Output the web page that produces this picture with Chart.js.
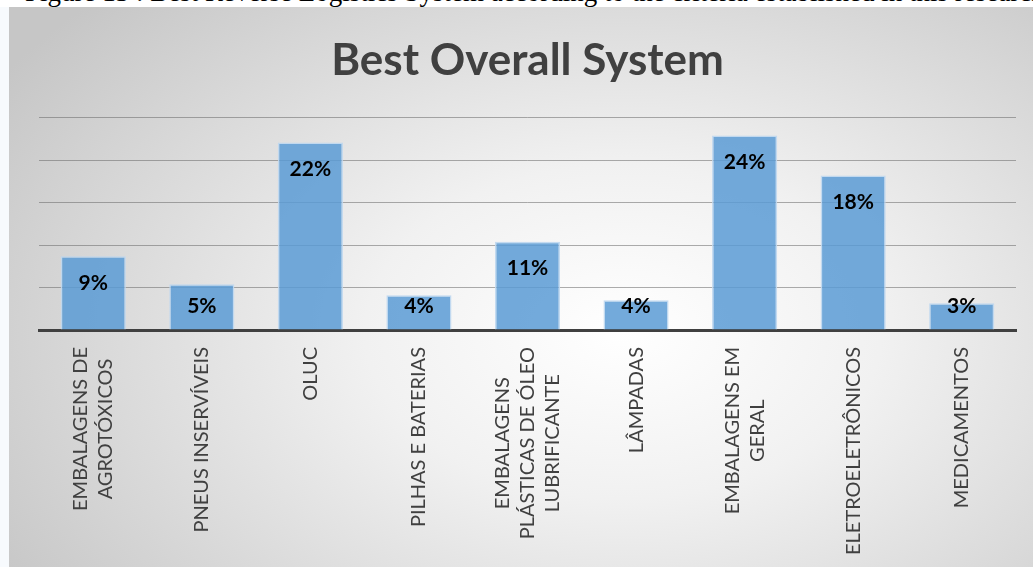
<!DOCTYPE html>
<html>
<head>
<meta charset="utf-8">
<script src="https://cdn.jsdelivr.net/npm/chart.js@4.4.1/dist/chart.umd.min.js"></script>
<style>
	html, body { margin: 0; padding: 0; width: 1033px; height: 567px; overflow: hidden; background: #f7fafd; }
	#caption { position: absolute; left: 0; top: 0; width: 1033px; height: 7px; overflow: hidden; background: #fff; }
	#caption span { position: absolute; left: 25px; top: -21px; white-space: nowrap; font: 27px/27px 'Liberation Serif', serif; color: #000; }
	#box { position: absolute; left: 9px; top: 7px; width: 1024px; height: 560px;
		background: radial-gradient(ellipse 72% 85% at 60% 58%, #ffffff 0%, #f1f1f1 35%, #c6c6c6 100%); }
</style>
</head>
<body>
<div id="caption"><span>Figure 13 : Best Reverse Logistics System according to the criteria established in this research</span></div>
<div id="box"><canvas id="chart" width="1024" height="560"></canvas></div>
<script>
// categories (multi-line where the original wraps)
const categories = [
	['EMBALAGENS DE', 'AGROTÓXICOS'],
	['PNEUS INSERVÍVEIS'],
	['OLUC'],
	['PILHAS E BATERIAS'],
	['EMBALAGENS', 'PLÁSTICAS DE ÓLEO', 'LUBRIFICANTE'],
	['LÂMPADAS'],
	['EMBALAGENS EM', 'GERAL'],
	['ELETROELETRÔNICOS'],
	['MEDICAMENTOS']
];
// bar heights (0..25)
const barValues = [8.7, 5.4, 22.1, 4.1, 10.4, 3.5, 22.9, 18.2, 3.15];
// labels printed on the bars
const shareLabels = ['9%', '5%', '22%', '4%', '11%', '4%', '24%', '18%', '3%'];
const yMin = 0, yMax = 25, yStep = 5;

// data labels inside the top of each bar
const barLabels = {
	id: 'barLabels',
	afterDatasetsDraw(chart) {
		const ctx = chart.ctx;
		const meta = chart.getDatasetMeta(0);
		const base = chart.scales.y.getPixelForValue(0);
		ctx.save();
		ctx.font = 'bold 21px Lato';
		ctx.fillStyle = '#000';
		ctx.textAlign = 'center';
		ctx.textBaseline = 'middle';
		meta.data.forEach((bar, i) => {
			const y = Math.min(bar.y + 27, base - 24);
			ctx.fillText(shareLabels[i], bar.x, y);
		});
		ctx.restore();
	}
};

// vertical category labels, lines centred like the original (chart.js right-aligns them)
const catLabels = {
	id: 'catLabels',
	afterDraw(chart) {
		const ctx = chart.ctx;
		const xs = chart.scales.x;
		const top = xs.top + 17;
		const lh = 25;
		ctx.save();
		ctx.font = '20px Lato';
		ctx.fillStyle = '#404040';
		ctx.textAlign = 'center';
		ctx.textBaseline = 'middle';
		categories.forEach((lines, i) => {
			const x = xs.getPixelForTick(i);
			const longest = Math.max(...lines.map(l => ctx.measureText(l).width));
			const cy = top + longest / 2;
			lines.forEach((line, j) => {
				const lx = x + (j - (lines.length - 1) / 2) * lh;
				ctx.save();
				ctx.translate(lx, cy);
				ctx.rotate(-Math.PI / 2);
				ctx.fillText(line, 0, 0);
				ctx.restore();
			});
		});
		ctx.restore();
	}
};

new Chart(document.getElementById('chart'), {
	type: 'bar',
	data: {
		labels: categories,
		datasets: [{
			data: barValues,
			backgroundColor: 'rgba(91,155,213,0.85)',
			borderColor: 'rgba(190,215,240,0.9)',
			borderWidth: 1.5,
			categoryPercentage: 1,
			barPercentage: 0.6
		}]
	},
	options: {
		responsive: false,
		animation: false,
		layout: { padding: { left: 13, right: 0, top: 0, bottom: 0 } },
		plugins: {
			legend: { display: false },
			tooltip: { enabled: false },
			title: {
				display: true,
				text: 'Best Overall System',
				color: '#404040',
				font: { family: 'Lato', size: 44, weight: 'bold' },
				padding: { top: 27, bottom: 31 }
			}
		},
		scales: {
			x: {
				grid: { display: false, drawTicks: false },
				border: { color: '#404040', width: 3 },
				ticks: { display: false },
				afterFit: s => { s.height = 237; }
			},
			y: {
				min: yMin, max: yMax,
				ticks: { display: false, stepSize: yStep },
				grid: { color: 'rgba(105,105,105,0.55)', lineWidth: 1, drawTicks: false },
				border: { display: false },
				afterFit: s => { s.width = 17; }
			},
			// empty right-hand axis, only reserves the right margin
			yRight: {
				position: 'right',
				min: yMin, max: yMax,
				ticks: { display: false },
				grid: { display: false, drawTicks: false },
				border: { display: false },
				afterFit: s => { s.width = 17; }
			}
		}
	},
	plugins: [barLabels, catLabels]
});
</script>
</body>
</html>
